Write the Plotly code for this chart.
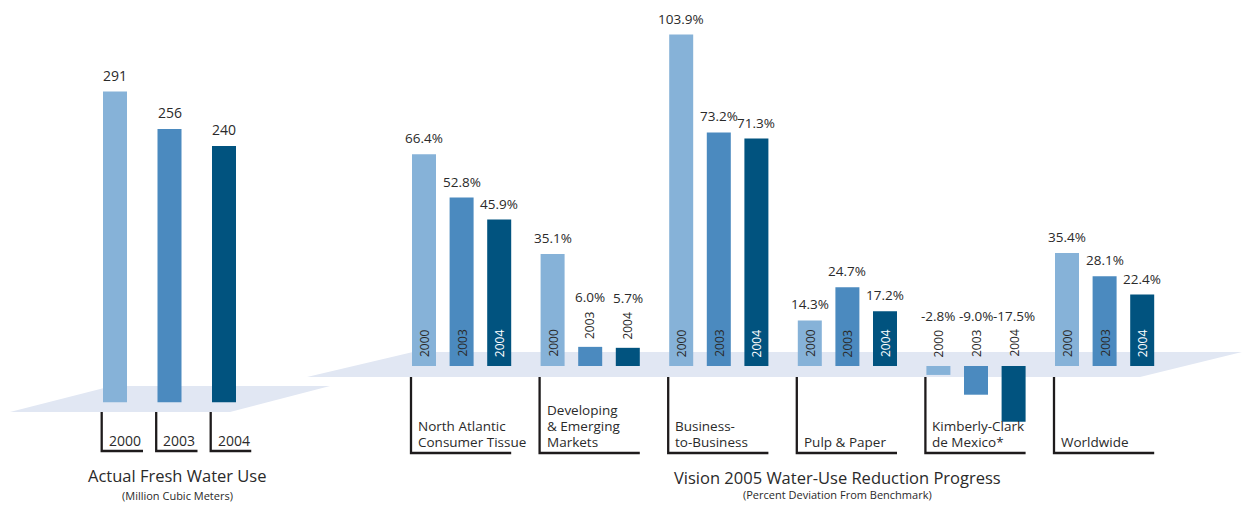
import plotly.graph_objects as go

# ---------------------------------------------------------------- data
years = ["2000", "2003", "2004"]

# Actual fresh water use, million cubic meters
fresh_water = [291, 256, 240]

# Vision 2005 progress, percent deviation from benchmark
segments = [
    "North Atlantic Consumer Tissue",
    "Developing & Emerging Markets",
    "Business-to-Business",
    "Pulp & Paper",
    "Kimberly-Clark de Mexico*",
    "Worldwide",
]
segment_lines = [
    ["North Atlantic", "Consumer Tissue"],
    ["Developing", "& Emerging", "Markets"],
    ["Business-", "to-Business"],
    ["Pulp & Paper"],
    ["Kimberly-Clark", "de Mexico*"],
    ["Worldwide"],
]
dev_2000 = [66.4, 35.1, 103.9, 14.3, -2.8, 35.4]
dev_2003 = [52.8, 6.0, 73.2, 24.7, -9.0, 28.1]
dev_2004 = [45.9, 5.7, 71.3, 17.2, -17.5, 22.4]
deviation = [dev_2000, dev_2003, dev_2004]

# ---------------------------------------------------------------- style
W, H = 1242, 506
FONT = "Open Sans"
INK = "#2a2a2a"
LINE = "#1e1b1c"
PLATFORM = "#e1e7f3"
year_colors = ["#86b2d8", "#4b8abf", "#01537f"]
year_text_colors = [INK, INK, "#ffffff"]


def fx(p):
    """horizontal pixel -> paper fraction"""
    return p / W


def fy(p):
    """vertical pixel (from top) -> paper fraction"""
    return 1 - p / H


# left panel geometry (pixels)
L_STEP, L_C0, L_BAR = 54.5, 115.0, 24.0
L_ZERO, L_SCALE = 402.3, 1.068
# right panel geometry (pixels)
R_STEP, R_C0, R_BAR, R_BARSTEP = 128.6, 461.6, 24.0, 37.6
R_ZERO, R_SCALE = 366.0, 3.19

l_w = L_BAR / L_STEP
r_w = R_BAR / R_STEP
r_step = R_BARSTEP / R_STEP

fig = go.Figure()

# left panel: fresh water use
fig.add_trace(go.Bar(
    x=years, y=fresh_water, width=l_w,
    marker=dict(color=year_colors, line_width=0),
    xaxis="x", yaxis="y", showlegend=False, hoverinfo="x+y",
))

# right panel: one trace per year, grouped by segment
for k, yr in enumerate(years):
    fig.add_trace(go.Bar(
        x=segments, y=deviation[k], width=r_w,
        offset=(k - 1) * r_step - r_w / 2,
        marker=dict(color=year_colors[k], line_width=0),
        name=yr, xaxis="x2", yaxis="y2", showlegend=False,
    ))

annotations = []
shapes = []

# floor platforms under each panel
def platform(pts):
    path = "M " + " L ".join(f"{fx(x):.5f},{fy(y):.5f}" for x, y in pts) + " Z"
    return dict(type="path", xref="paper", yref="paper", path=path,
                fillcolor=PLATFORM, line_width=0, layer="below")


shapes.append(platform([(10, 412), (112, 386), (330, 386), (230, 412)]))
shapes.append(platform([(307, 377), (413, 352), (1242, 352), (1140, 377)]))

# left panel labels and brackets
for i, yr in enumerate(years):
    annotations.append(dict(
        x=i, y=fresh_water[i], xref="x", yref="y", text=str(fresh_water[i]),
        showarrow=False, yanchor="middle", yshift=16,
        font=dict(family=FONT, size=14, color=INK)))
    x0 = i - l_w / 2 - 1.3 / L_STEP
    x1 = x0 + 41.3 / L_STEP
    shapes.append(dict(
        type="path", xref="x", yref="paper",
        path=f"M {x0},{fy(412)} L {x0},{fy(451)} L {x1},{fy(451)}",
        line=dict(color=LINE, width=2.3)))
    annotations.append(dict(
        x=x0, y=fy(440), xref="x", yref="paper", text=yr, showarrow=False,
        xanchor="left", yanchor="middle", xshift=5,
        font=dict(family=FONT, size=14, color=INK)))

# right panel labels and brackets
for g, seg in enumerate(segments):
    for k, yr in enumerate(years):
        v = deviation[k][g]
        xc = g + (k - 1) * r_step
        inside = v * R_SCALE > 40
        if inside:
            year_y, year_shift, year_color = 0, 7, year_text_colors[k]
            val_y, val_shift = v, 16
        else:
            base = max(v, 0)
            year_y, year_shift, year_color = base, 6 if v > 0 else 7, INK
            val_y, val_shift = base, 50
        annotations.append(dict(
            x=xc, y=year_y, xref="x2", yref="y2", text=yr, textangle=-90,
            showarrow=False, xanchor="center", yanchor="bottom",
            yshift=year_shift,
            font=dict(family=FONT, size=12, color=year_color)))
        annotations.append(dict(
            x=xc, y=val_y, xref="x2", yref="y2", text=f"{v:.1f}%",
            showarrow=False, yanchor="middle", yshift=val_shift,
            font=dict(family=FONT, size=13.5, color=INK)))

    x0 = g - r_step - r_w / 2 - 1 / R_STEP
    x1 = g + r_step + r_w / 2
    shapes.append(dict(
        type="path", xref="x2", yref="paper",
        path=f"M {x0},{fy(377)} L {x0},{fy(453)} L {x1},{fy(453)}",
        line=dict(color=LINE, width=2.3)))
    lines = segment_lines[g]
    n = len(lines)
    for j, txt in enumerate(lines):
        baseline = 446.5 - (n - 1 - j) * 15.8
        annotations.append(dict(
            x=x0, y=fy(baseline - 5), xref="x2", yref="paper", text=txt,
            showarrow=False, xanchor="left", yanchor="middle", xshift=5,
            font=dict(family=FONT, size=13.5, color=INK)))

# panel titles
titles = [
    (177, 475, "Actual Fresh Water Use", 16.5),
    (177, 495, "(Million Cubic Meters)", 11),
    (837.5, 477, "Vision 2005 Water-Use Reduction Progress", 16.5),
    (837.5, 494, "(Percent Deviation From Benchmark)", 11),
]
for x, y, txt, size in titles:
    annotations.append(dict(
        x=fx(x), y=fy(y), xref="paper", yref="paper", text=txt,
        showarrow=False, xanchor="center", yanchor="middle",
        font=dict(family=FONT, size=size, color=INK)))

hidden = dict(visible=False, showgrid=False, zeroline=False, fixedrange=True)
fig.update_layout(
    width=W, height=H,
    margin=dict(l=0, r=0, t=0, b=0),
    paper_bgcolor="white", plot_bgcolor="rgba(0,0,0,0)",
    barmode="overlay",
    xaxis=dict(hidden, type="category", categoryorder="array",
               categoryarray=years, range=[-0.5, 2.5],
               domain=[fx(L_C0 - L_STEP / 2), fx(L_C0 + 2.5 * L_STEP)]),
    yaxis=dict(hidden, range=[-(H - L_ZERO) / L_SCALE, L_ZERO / L_SCALE],
               domain=[0, 1]),
    xaxis2=dict(hidden, type="category", categoryorder="array",
                categoryarray=segments, range=[-0.5, 5.5],
                domain=[fx(R_C0 - R_STEP / 2), fx(R_C0 + 5.5 * R_STEP)],
                anchor="y2"),
    yaxis2=dict(hidden, range=[-(H - R_ZERO) / R_SCALE, R_ZERO / R_SCALE],
                domain=[0, 1], anchor="x2"),
    shapes=shapes,
    annotations=annotations,
)

fig.write_html("out.html")
